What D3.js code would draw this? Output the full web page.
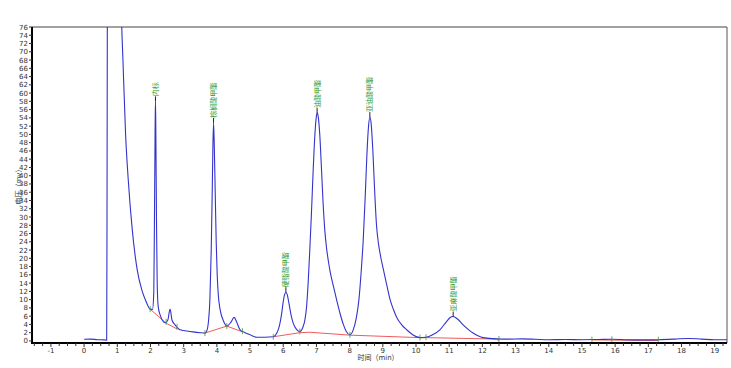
<!DOCTYPE html>
<html><head><meta charset="utf-8">
<script src="https://cdn.jsdelivr.net/npm/d3@7"></script>
<style>body{margin:0;background:#fff}svg{display:block}text{font-family:"DejaVu Sans","Noto Sans CJK SC",sans-serif}</style>
</head><body><svg id="c" width="731" height="368"></svg>
<script>
// retention time (min) and detector signal (mV)
const traceTime = [0.0,0.2,0.4,0.6,0.68,0.69,0.70,0.72,1.0,1.12,1.17,1.25,1.33,1.45,1.6,1.74,1.87,1.99,2.06,2.10,2.12,2.14,2.15,2.16,2.18,2.20,2.23,2.29,2.44,2.52,2.59,2.65,2.74,2.89,3.1,3.28,3.5,3.64,3.70,3.75,3.79,3.83,3.86,3.88,3.90,3.92,3.95,3.98,4.01,4.04,4.10,4.19,4.30,4.42,4.52,4.60,4.70,4.85,5.0,5.2,5.45,5.7,5.8,5.88,5.95,6.0,6.04,6.08,6.12,6.17,6.23,6.3,6.4,6.5,6.6,6.65,6.7,6.75,6.8,6.85,6.9,6.95,7.0,7.02,7.05,7.1,7.15,7.2,7.25,7.3,7.36,7.41,7.51,7.61,7.71,7.81,7.9,8.01,8.1,8.2,8.28,8.35,8.41,8.47,8.52,8.57,8.61,8.65,8.7,8.75,8.81,8.87,8.94,9.02,9.12,9.22,9.32,9.42,9.57,9.72,9.9,10.12,10.3,10.5,10.72,10.92,11.02,11.12,11.25,11.42,11.72,12.02,12.42,12.8,13.2,13.6,14.0,14.5,15.0,15.5,15.9,16.3,16.8,17.3,17.8,18.2,18.6,19.0,19.37];
const traceValue = [0.4,0.45,0.3,0.25,0.2,30,80,150,150,80,68,50,39,27,17.2,12.3,9.5,7.7,7.6,12,30,52,58,52,30,15,8.5,6.3,4.4,5,7.7,5,3.9,2.7,2.4,2.2,2.0,1.9,2.5,5,10,22,36,47,52.8,48,36,24,16,11.5,7.5,5,3.6,4.5,5.7,4.5,2.7,2.0,1.5,0.9,0.9,1.0,1.8,3.5,6.5,9.5,11.2,11.8,11.2,9.2,6.5,4.3,2.8,2.3,3.5,5,8,14,22,31,41,49.5,54.5,55.2,54.5,50,42,33.5,27,22.8,19.3,16.9,13.3,9.9,6.7,4.0,2.3,1.5,2.5,5.5,10,17,24.5,35,45,52,54.2,52.5,46,37,28,23.5,20.2,17.2,13.5,10,7.6,5.7,3.9,2.7,1.5,0.8,0.9,1.5,2.7,4.7,5.6,5.9,5.3,3.9,1.9,0.8,0.5,0.45,0.5,0.4,0.3,0.35,0.3,0.35,0.4,0.3,0.25,0.3,0.45,0.6,0.45,0.3,0.3];

// integration baselines (red)
const baselineSegments = [
  [[1.99,7.7],[2.47,4.3]],
  [[2.47,4.3],[2.80,2.9]],
  [[3.64,1.9],[4.30,3.6],[4.77,2.2]],
  [[5.70,1.0],[6.50,2.0],[6.80,2.1],[8.01,1.4],[10.12,0.8],[10.30,0.8],[12.42,0.45],[12.5,0.1]],
  [[15.3,0.25],[17.3,0.1]]
];
const integrationMarks = [1.99,2.47,2.80,3.64,4.30,4.77,5.70,6.50,8.01,10.12,10.30,12.5,15.3,15.9,17.3];

// peak names, retention times, heights
const peakNames = ["内标","棕榈酸甲酯","硬脂酸甲酯","油酸甲酯","亚油酸甲酯","亚麻酸甲酯"];
const peakTimes = [2.15,3.9,6.08,7.02,8.61,11.12];
const peakHeights = [58,52.8,11.8,55.2,54.2,5.9];

const xTicks = d3.range(-1,20,1);
const yTicks = d3.range(0,77,2);

const svg = d3.select("#c");
const L=32,R=727,T=27,B=343;
const x = d3.scaleLinear().domain([-1.57,19.37]).range([L,R]);
const y = d3.scaleLinear().domain([-0.5,76]).range([B,T]);

svg.append("defs").append("clipPath").attr("id","clip")
  .append("rect").attr("x",L).attr("y",T).attr("width",R-L).attr("height",B-T);

// frame
svg.append("line").attr("x1",L).attr("x2",R).attr("y1",T).attr("y2",T).attr("stroke","#444").attr("stroke-width",1);
svg.append("line").attr("x1",R).attr("x2",R).attr("y1",T).attr("y2",B).attr("stroke","#555").attr("stroke-width",1);

const g = svg.append("g").attr("clip-path","url(#clip)");
const trace = traceTime.map((t,i)=>[t,traceValue[i]]);
const line = d3.line().x(d=>x(d[0])).y(d=>y(d[1])).curve(d3.curveMonotoneX);

baselineSegments.forEach(seg=>{
  g.append("path").attr("d",d3.line().x(d=>x(d[0])).y(d=>y(d[1]))(seg))
   .attr("fill","none").attr("stroke","#f05a5a").attr("stroke-width",1);
});
g.append("path").attr("d",line(trace)).attr("fill","none").attr("stroke","#3333cc").attr("stroke-width",1.1);

// integration tick marks
const interp = t=>{ let i=d3.bisectLeft(traceTime,t); if(i<=0) return traceValue[0]; if(i>=traceTime.length) return traceValue[traceValue.length-1];
  const t0=traceTime[i-1],t1=traceTime[i]; return traceValue[i-1]+(traceValue[i]-traceValue[i-1])*(t-t0)/(t1-t0); };
integrationMarks.forEach(t=>{
  const v=interp(t);
  g.append("line").attr("x1",x(t)).attr("x2",x(t)).attr("y1",y(v)-3).attr("y2",y(v)+3).attr("stroke","#3a9a3a").attr("stroke-width",0.8);
});

// peak labels
peakNames.forEach((n,i)=>{
  const px=x(peakTimes[i]), py=y(peakHeights[i]);
  svg.append("line").attr("x1",px).attr("x2",px).attr("y1",py).attr("y2",py-5).attr("stroke","#223").attr("stroke-width",1);
  svg.append("text").attr("transform",`translate(${px+2.5},${py-5}) rotate(-90)`)
    .attr("font-size",7).attr("fill","#2f9a2f").attr("text-anchor","start").text(n);
});

// axes
svg.append("line").attr("x1",L).attr("x2",L).attr("y1",T).attr("y2",B+1).attr("stroke","#000").attr("stroke-width",2);
svg.append("line").attr("x1",L-1).attr("x2",R).attr("y1",B).attr("y2",B).attr("stroke","#000").attr("stroke-width",2);

yTicks.forEach(v=>{
  svg.append("line").attr("x1",L-3).attr("x2",L).attr("y1",y(v)).attr("y2",y(v)).attr("stroke","#333");
  svg.append("text").attr("x",L-4).attr("y",y(v)+2.5).attr("text-anchor","end").attr("font-size",7).attr("fill","#333").text(v);
});
d3.range(-1.5,19.3,0.25).forEach(t=>{
  const major=Math.abs(t-Math.round(t))<1e-6;
  svg.append("line").attr("x1",x(t)).attr("x2",x(t)).attr("y1",B).attr("y2",B+(major?4:3)).attr("stroke","#333");
});
xTicks.forEach(t=>{
  svg.append("text").attr("x",x(t)).attr("y",B+10).attr("text-anchor","middle").attr("font-size",7).attr("fill","#333").text(t);
});

svg.append("text").attr("x",378).attr("y",360).attr("text-anchor","middle").attr("font-size",7).attr("fill","#333").text("时间（min）");
svg.append("text").attr("transform","translate(21,185) rotate(-90)").attr("text-anchor","middle").attr("font-size",7).attr("fill","#333").text("电压（mv）");
</script></body></html>
